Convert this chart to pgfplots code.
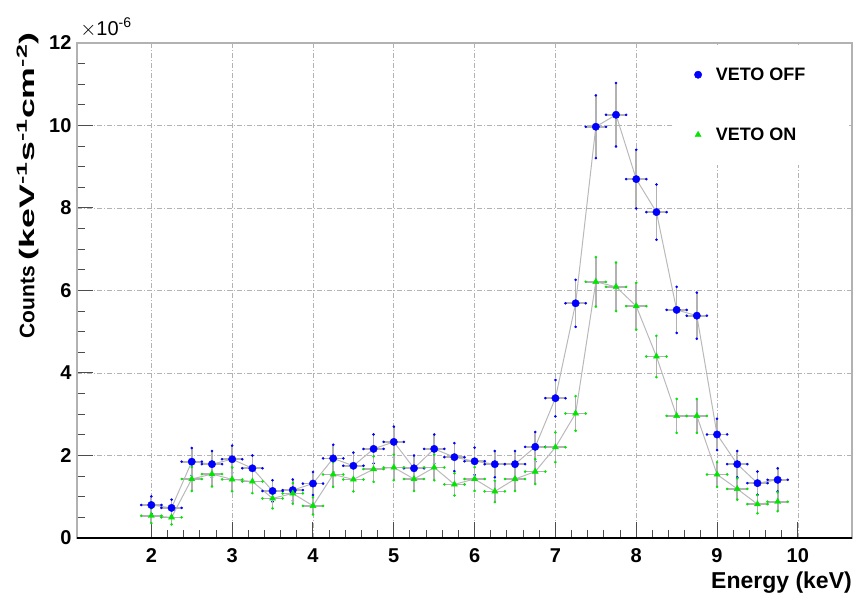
\documentclass[border=0pt]{standalone}
\usepackage{graphicx}
\usepackage{pgfplots}
\pgfplotsset{compat=1.18}
\usepackage{pgfplotstable}
\usepackage{fontspec}
\setmainfont{Liberation Sans}
\definecolor{rootblue}{RGB}{0,0,255}
\definecolor{rootgreen}{RGB}{0,230,0}
\pgfplotstableread{
x y ex ey
2.00 0.80 0.125 0.21
2.25 0.73 0.125 0.20
2.50 1.85 0.125 0.33
2.75 1.79 0.125 0.32
3.00 1.91 0.125 0.33
3.25 1.69 0.125 0.31
3.50 1.14 0.125 0.26
3.75 1.16 0.125 0.26
4.00 1.32 0.125 0.28
4.25 1.93 0.125 0.33
4.50 1.75 0.125 0.32
4.75 2.16 0.125 0.35
5.00 2.33 0.125 0.37
5.25 1.69 0.125 0.31
5.50 2.16 0.125 0.35
5.75 1.96 0.125 0.34
6.00 1.86 0.125 0.33
6.25 1.79 0.125 0.32
6.50 1.79 0.125 0.32
6.75 2.21 0.125 0.36
7.00 3.39 0.125 0.44
7.25 5.69 0.125 0.57
7.50 9.97 0.125 0.76
7.75 10.26 0.125 0.77
8.00 8.70 0.125 0.71
8.25 7.90 0.125 0.67
8.50 5.53 0.125 0.56
8.75 5.39 0.125 0.56
9.00 2.51 0.125 0.38
9.25 1.79 0.125 0.32
9.50 1.33 0.125 0.28
9.75 1.41 0.125 0.28
}\vetooff
\pgfplotstableread{
x y ex ey
2.00 0.54 0.125 0.18
2.25 0.50 0.125 0.17
2.50 1.43 0.125 0.29
2.75 1.55 0.125 0.30
3.00 1.42 0.125 0.29
3.25 1.37 0.125 0.28
3.50 0.96 0.125 0.24
3.75 1.08 0.125 0.25
4.00 0.78 0.125 0.21
4.25 1.54 0.125 0.30
4.50 1.42 0.125 0.29
4.75 1.67 0.125 0.31
5.00 1.71 0.125 0.31
5.25 1.43 0.125 0.29
5.50 1.71 0.125 0.31
5.75 1.30 0.125 0.27
6.00 1.43 0.125 0.29
6.25 1.13 0.125 0.26
6.50 1.43 0.125 0.29
6.75 1.61 0.125 0.30
7.00 2.20 0.125 0.36
7.25 3.02 0.125 0.42
7.50 6.21 0.125 0.60
7.75 6.09 0.125 0.59
8.00 5.62 0.125 0.57
8.25 4.40 0.125 0.50
8.50 2.96 0.125 0.41
8.75 2.96 0.125 0.41
9.00 1.54 0.125 0.30
9.25 1.19 0.125 0.26
9.50 0.82 0.125 0.22
9.75 0.88 0.125 0.23
}\vetoon
\begin{document}
\begin{tikzpicture}
\begin{axis}[
  at={(77pt,62pt)}, anchor=south west,
  scale only axis, width=775pt, height=495pt,
  xmin=1.08, xmax=10.67, ymin=0, ymax=12,
  xtick={2,3,4,5,6,7,8,9,10},
  ytick={0,2,4,6,8,10,12},
  minor x tick num=4, minor y tick num=3,
  tick align=inside, tick pos=left,
  major tick length=16pt, minor tick length=8pt,
  tick style={gray!60!black, line width=1pt},
  axis line style={gray!60, line width=1.5pt},
  grid=major,
  major grid style={gray!60, line width=0.6pt, dash pattern=on 5pt off 2pt on 1pt off 2pt},
  /pgf/number format/assume math mode=true,
  ticklabel style={font=\bfseries\fontsize{20}{20}\selectfont},
  xticklabel style={yshift=-7pt},
  yticklabel style={xshift=-2pt},
  xlabel={Energy (keV)},
  xlabel style={at={(axis description cs:1,-0.068)}, anchor=north east, inner sep=0pt, font=\bfseries\fontsize{23}{23}\selectfont},
  ylabel={Counts \scalebox{1.7}[1]{(keV\textsuperscript{-1}s\textsuperscript{-1}cm\textsuperscript{-2})}},
  ylabel style={at={(axis description cs:-0.049,1.022)}, anchor=south east, inner sep=0pt, font=\bfseries\fontsize{21}{21}\selectfont},
  legend style={at={(axis description cs:0.997,0.997)}, anchor=north east, draw=none, fill=white,
    font=\bfseries\fontsize{18}{18}\selectfont, inner xsep=20pt, inner ysep=21pt, row sep=42pt, column sep=12pt},
  legend cell align=left,
  clip=false,
]
\addplot[gray!55, line width=1pt, forget plot] table[x=x,y=y] {\vetooff};
\addplot[gray!55, line width=1pt, forget plot] table[x=x,y=y] {\vetoon};
\addplot[only marks, mark=*, mark size=3.7pt, color=rootblue,
  error bars/.cd, x dir=both, x explicit, y dir=both, y explicit,
  error bar style={gray!60, line width=1.7pt},
  error mark=*, error mark options={mark size=1.1pt, rootblue, fill=rootblue}]
  table[x=x, y=y, x error=ex, y error=ey] {\vetooff};
\addlegendentry{VETO OFF\hspace*{22pt}}
\addplot[only marks, mark=triangle*, mark size=3.5pt, color=rootgreen,
  error bars/.cd, x dir=both, x explicit, y dir=both, y explicit,
  error bar style={gray!60, line width=1.7pt},
  error mark=*, error mark options={mark size=1.1pt, rootgreen, fill=rootgreen}]
  table[x=x, y=y, x error=ex, y error=ey] {\vetoon};
\addlegendentry{VETO ON}
\draw[black, line width=1.5pt] (rel axis cs:0,0) -- (rel axis cs:1,0);
\node[anchor=base west, inner sep=0pt, font=\fontsize{20}{20}\selectfont] at (axis description cs:0.004,1.016) {$\times$10\textsuperscript{-6}};
\end{axis}
\pgfresetboundingbox
\path[use as bounding box] (0,0) rectangle (865pt,600pt);
\end{tikzpicture}
\end{document}
